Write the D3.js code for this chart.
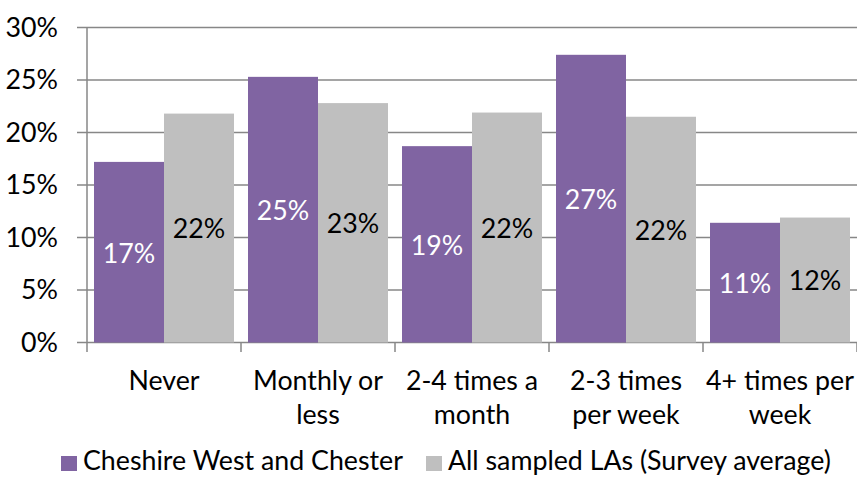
<!DOCTYPE html>
<html><head><meta charset="utf-8">
<script src="https://cdn.jsdelivr.net/npm/d3@7"></script>
<style>html,body{margin:0;padding:0;background:#fff;}svg{display:block;}</style>
</head><body>
<script>
const categories = [["Never"], ["Monthly or", "less"], ["2-4 times a", "month"], ["2-3 times", "per week"], ["4+ times per", "week"]];
const seriesNames = ["Cheshire West and Chester", "All sampled LAs (Survey average)"];
const cheshire = [17.2, 25.3, 18.7, 27.4, 11.4];
const average = [21.8, 22.8, 21.9, 21.5, 11.9];
const yTicks = [0, 5, 10, 15, 20, 25, 30];
const colors = ["#8064A2", "#BFBFBF"];
const labelColors = ["#ffffff", "#000000"];

const W = 857, H = 477;
const FONT = "Lato, 'Open Sans', sans-serif";
const svg = d3.select("body").append("svg").attr("width", W).attr("height", H);

// calibrate font size so the legend text width matches the reference
const probe = svg.append("text").attr("font-family", FONT).attr("font-size", 28).text(seriesNames[0]);
const measured = probe.node().getComputedTextLength();
probe.remove();
const fs = 28 * 320 / measured;

const catKeys = categories.map(c => c.join(" "));
const x0 = d3.scaleBand().domain(catKeys).range([87, 857]);
const x1 = d3.scaleBand().domain([0, 1]).range([7, x0.bandwidth() - 7]);
const y = d3.scaleLinear().domain([0, 30]).range([342.5, 27.5]);

// gridlines
svg.append("g").selectAll("line").data(yTicks).join("line")
  .attr("x1", 77).attr("x2", 857)
  .attr("y1", d => y(d)).attr("y2", d => y(d))
  .attr("stroke", "#878787").attr("stroke-width", 1.5);

// y axis line
svg.append("line").attr("x1", 87).attr("x2", 87).attr("y1", y(30)).attr("y2", 352)
  .attr("stroke", "#878787").attr("stroke-width", 1.5);

// category ticks
svg.append("g").selectAll("line").data(catKeys).join("line")
  .attr("x1", (d, i) => x0(d) + x0.bandwidth())
  .attr("x2", (d, i) => x0(d) + x0.bandwidth())
  .attr("y1", y(0)).attr("y2", 352)
  .attr("stroke", "#878787").attr("stroke-width", 1.5);

// y labels
svg.append("g").selectAll("text").data(yTicks).join("text")
  .attr("x", 58).attr("y", d => y(d)).attr("dy", "0.35em")
  .attr("text-anchor", "end").attr("font-family", FONT).attr("font-size", fs)
  .attr("fill", "#000").text(d => d + "%");

const data = [];
catKeys.forEach((c, i) => {
  data.push({c, s: 0, v: cheshire[i]});
  data.push({c, s: 1, v: average[i]});
});

// bars
svg.append("g").selectAll("rect").data(data).join("rect")
  .attr("x", d => x0(d.c) + x1(d.s))
  .attr("width", x1.bandwidth())
  .attr("y", d => y(d.v))
  .attr("height", d => y(0) - y(d.v))
  .attr("fill", d => colors[d.s]);

// value labels
svg.append("g").selectAll("text").data(data).join("text")
  .attr("x", d => x0(d.c) + x1(d.s) + x1.bandwidth() / 2)
  .attr("y", d => (y(d.v) + y(0)) / 2 + 1)
  .attr("dy", "0.35em")
  .attr("text-anchor", "middle").attr("font-family", FONT).attr("font-size", fs)
  .attr("fill", d => labelColors[d.s])
  .text(d => Math.round(d.v) + "%");

// category labels
const cl = svg.append("g").selectAll("text").data(categories).join("text")
  .attr("text-anchor", "middle").attr("font-family", FONT).attr("font-size", fs).attr("fill", "#000");
cl.each(function(d, i) {
  const t = d3.select(this);
  d.forEach((line, j) => {
    t.append("tspan").attr("x", x0(catKeys[i]) + x0.bandwidth() / 2).attr("y", 390 + j * 34).text(line);
  });
});

// legend
const legendX = [61, 426];
const lg = svg.append("g").selectAll("g").data(seriesNames).join("g");
lg.append("rect").attr("x", (d, i) => legendX[i]).attr("y", 456).attr("width", 16).attr("height", 15)
  .attr("fill", (d, i) => colors[i]);
lg.append("text").attr("x", (d, i) => legendX[i] + 22).attr("y", 470)
  .attr("font-family", FONT).attr("font-size", fs).attr("fill", "#000").text(d => d);
</script>
</body></html>
